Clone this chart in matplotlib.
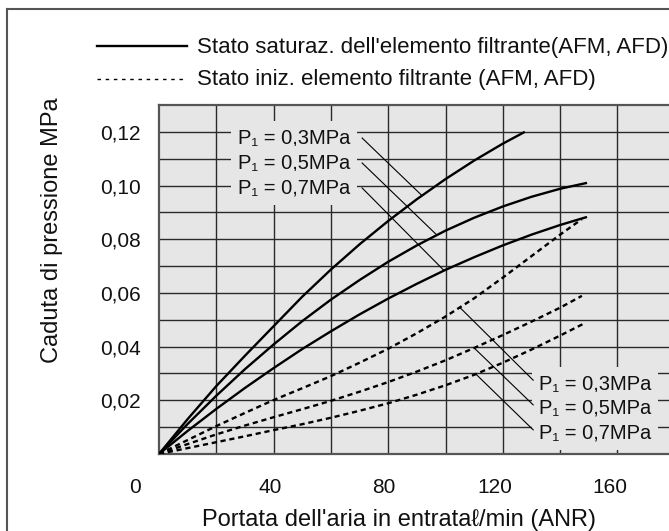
import numpy as np
import matplotlib
matplotlib.use("Agg")
import matplotlib.pyplot as plt
from matplotlib.lines import Line2D
from matplotlib.transforms import ScaledTranslation

plt.rcParams['font.family'] = ['Liberation Sans', 'DejaVu Sans']

# ---------------- data ----------------
pressures = ["0,3", "0,5", "0,7"]

# saturated element (solid)
sat_x_03 = [0, 10, 20, 30, 40, 50, 60, 70, 80, 90, 100, 110, 120, 127.7]
sat_y_03 = [0, 0.0130, 0.0253, 0.0366, 0.0476, 0.0586, 0.0687, 0.0781, 0.0868,
            0.0949, 0.1024, 0.1093, 0.1156, 0.1200]
sat_x_05 = [0, 10, 20, 30, 40, 50, 60, 70, 80, 90, 100, 110, 120, 130, 140, 149.4]
sat_y_05 = [0, 0.0112, 0.0217, 0.0316, 0.0408, 0.0495, 0.0575, 0.0648, 0.0716,
            0.0777, 0.0832, 0.0880, 0.0922, 0.0958, 0.0988, 0.1010]
sat_x_07 = [0, 10, 20, 30, 40, 50, 60, 70, 80, 90, 100, 110, 120, 130, 140, 149.4]
sat_y_07 = [0, 0.0086, 0.0168, 0.0246, 0.0320, 0.0391, 0.0457, 0.0520, 0.0579,
            0.0634, 0.0686, 0.0733, 0.0777, 0.0817, 0.0853, 0.0883]

# initial element (dashed)
ini_x_03 = [0, 10, 20, 30, 40, 50, 60, 70, 80, 90, 100, 110, 120, 130, 140, 147.6]
ini_y_03 = [0, 0.0052, 0.0104, 0.0153, 0.0201, 0.0245, 0.0290, 0.0340, 0.0392,
            0.0450, 0.0512, 0.0580, 0.0657, 0.0737, 0.0817, 0.0875]
ini_x_05 = [0, 10, 20, 30, 40, 50, 60, 70, 80, 90, 100, 110, 120, 130, 140, 147.6]
ini_y_05 = [0, 0.0037, 0.0073, 0.0106, 0.0137, 0.0167, 0.0198, 0.0232, 0.0268,
            0.0307, 0.0349, 0.0395, 0.0443, 0.0493, 0.0545, 0.0589]
ini_x_07 = [0, 10, 20, 30, 40, 50, 60, 70, 80, 90, 100, 110, 120, 130, 140, 148.7]
ini_y_07 = [0, 0.0022, 0.0044, 0.0066, 0.0089, 0.0111, 0.0135, 0.0161, 0.0189,
            0.0221, 0.0256, 0.0295, 0.0340, 0.0389, 0.0441, 0.0488]

x_ticks = [40, 80, 120, 160]
y_ticks = [0.02, 0.04, 0.06, 0.08, 0.10, 0.12]
y_tick_labels = ["0,02", "0,04", "0,06", "0,08", "0,10", "0,12"]

legend_labels = ["Stato saturaz. dell'elemento filtrante(AFM, AFD)",
                 "Stato iniz. elemento filtrante (AFM, AFD)"]
xlabel = "Portata dell'aria in entrata\u2113/min (ANR)"
ylabel = "Caduta di pressione MPa"

# ---------------- figure ----------------
W, H = 669, 531
fig = plt.figure(figsize=(W / 100, H / 100), dpi=100)
fig.patch.set_facecolor("white")

ax_left, ax_bottom, ax_top = 159, 454, 105
ax_w_px = 180 * 2.865
ax = fig.add_axes([ax_left / W, (H - ax_bottom) / H, ax_w_px / W, (ax_bottom - ax_top) / H])
ax.set_facecolor("#e6e6e6")
ax.set_xlim(0, 180)
ax.set_ylim(0, 0.13)

# grid
grid_col = "#2a2a2a"
for gx in np.arange(20, 180, 20):
    ax.axvline(gx, color=grid_col, lw=1.0, zorder=1)
for gy in np.arange(0.01, 0.13, 0.01):
    ax.axhline(gy, color=grid_col, lw=1.0, zorder=1)

for s in ["top", "left", "bottom"]:
    ax.spines[s].set_color("#555555")
    ax.spines[s].set_linewidth(1.6)
ax.spines["right"].set_visible(False)

ax.set_xticks(x_ticks)
ax.set_xticklabels([str(v) for v in x_ticks])
ax.set_yticks(y_ticks)
ax.set_yticklabels(y_tick_labels)
ax.tick_params(axis="both", length=0, labelsize=15, colors="#111111")
ax.tick_params(axis="x", pad=17)
ax.tick_params(axis="y", pad=13)
for lab, dx in zip(ax.get_xticklabels(), [-3, -4, -8, -8]):
    lab.set_transform(lab.get_transform() + ScaledTranslation(dx / 100, 0, fig.dpi_scale_trans))
ax.text(-8.4, -0.0123, "0", fontsize=15, ha="center", va="center", color="#111111")

fig.text(399 / W, 1 - 520 / H, xlabel, fontsize=17, ha="center", va="center", color="#111111")
fig.text(52 / W, 1 - 230 / H, ylabel, fontsize=17, ha="center", va="center",
         rotation=90, color="#111111")

# curves
solid_sets = [(sat_x_03, sat_y_03), (sat_x_05, sat_y_05), (sat_x_07, sat_y_07)]
dash_sets = [(ini_x_03, ini_y_03), (ini_x_05, ini_y_05), (ini_x_07, ini_y_07)]
for xs, ys in solid_sets:
    ax.plot(xs, ys, color="black", lw=1.7, zorder=5, solid_capstyle="butt",
            solid_joinstyle="round")
for xs, ys in dash_sets:
    ax.plot(xs, ys, color="black", lw=1.7, ls=(0, (2.2, 1.6)), zorder=5)

# labels with leader lines
box = dict(boxstyle="square,pad=0.35", facecolor="#e6e6e6", edgecolor="none")
tl_y = [0.1177, 0.1084, 0.0991]
tl_hit = [91.8, 97.0, 99.5]
for i, p in enumerate(pressures):
    xs, ys = solid_sets[i]
    ax.text(27.5, tl_y[i], f"P\u2081 = {p}MPa", fontsize=14.5, ha="left", va="center",
            bbox=box, zorder=3, color="#111111")
    ax.plot([70.9, tl_hit[i]], [tl_y[i], np.interp(tl_hit[i], xs, ys)],
            color="black", lw=0.8, zorder=4)

br_y = [0.0262, 0.0170, 0.0077]
br_hit = [105.0, 110.0, 110.6]
for i, p in enumerate(pressures):
    xs, ys = dash_sets[i]
    ax.text(132.5, br_y[i], f"P\u2081 = {p}MPa", fontsize=14.5, ha="left", va="center",
            bbox=box, zorder=3, color="#111111")
    ax.plot([br_hit[i], 130.6], [np.interp(br_hit[i], xs, ys), br_y[i] + 0.0013],
            color="black", lw=0.8, zorder=4)

# legend (top)
fig.add_artist(Line2D([97 / W, 187 / W], [1 - 46 / H, 1 - 46 / H], color="black", lw=1.7))
fig.add_artist(Line2D([97 / W, 187 / W], [1 - 79 / H, 1 - 79 / H], color="black", lw=1.0,
                      ls=(0, (2.5, 3.4))))
fig.text(197 / W, 1 - 47 / H, legend_labels[0], fontsize=16, ha="left", va="center", color="#111111")
fig.text(197 / W, 1 - 80 / H, legend_labels[1], fontsize=16, ha="left", va="center", color="#111111")

# outer frame
fig.add_artist(Line2D([7 / W, 7 / W], [0, 1 - 9 / H], color="#555555", lw=1.5))
fig.add_artist(Line2D([7 / W, 1.0], [1 - 9 / H, 1 - 9 / H], color="#555555", lw=1.5))

fig.savefig("out.png", dpi=100)
